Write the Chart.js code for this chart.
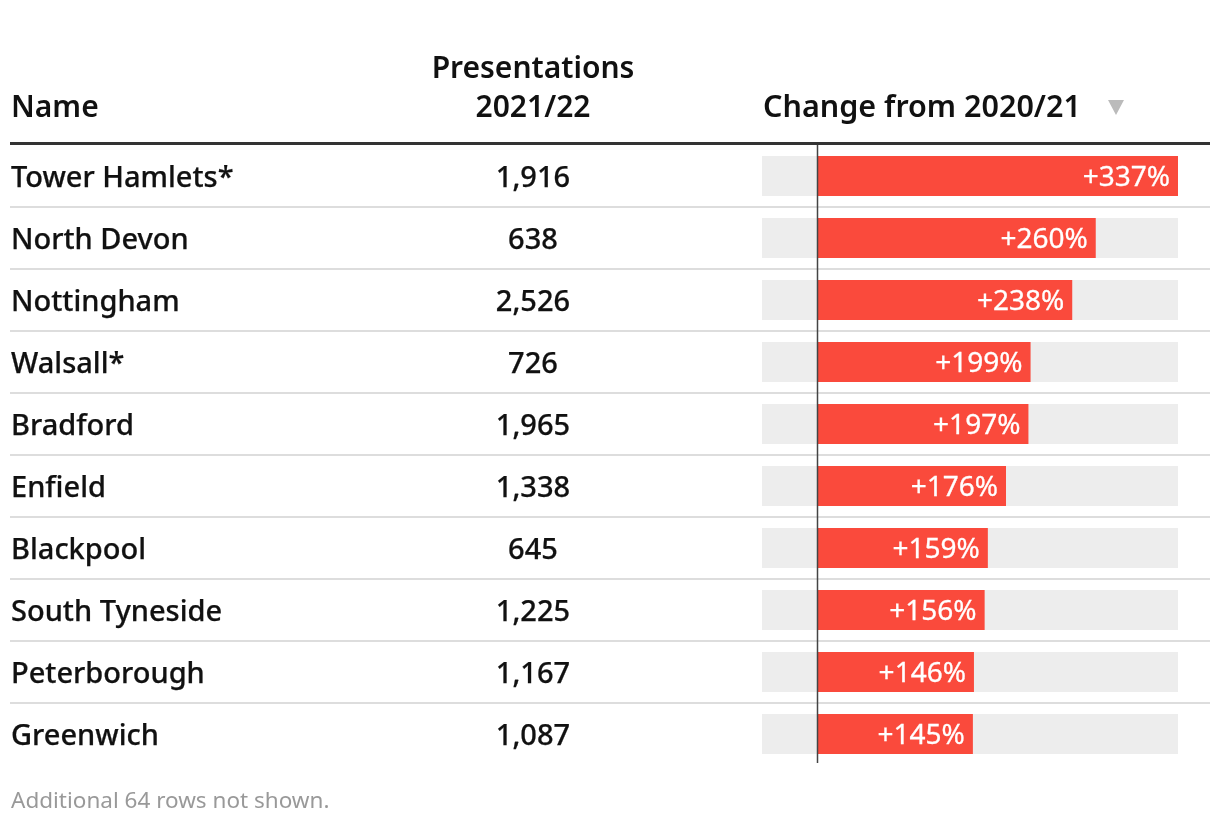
<!DOCTYPE html>
<html><head><meta charset="utf-8">
<script src="https://cdn.jsdelivr.net/npm/chart.js@4.4.0/dist/chart.umd.min.js"></script>
<style>html,body{margin:0;padding:0;background:#fff;}canvas{display:block;}</style>
</head><body>
<canvas id="c" width="1220" height="828"></canvas>
<script>
const names = ['Tower Hamlets*','North Devon','Nottingham','Walsall*','Bradford','Enfield','Blackpool','South Tyneside','Peterborough','Greenwich'];
const presentations = [1916, 638, 2526, 726, 1965, 1338, 645, 1225, 1167, 1087];
const changes = [337, 260, 238, 199, 197, 176, 159, 156, 146, 145];
const domainMin = -52.4;
const domainMax = 337;
const headerName = 'Name';
const headerPres = ['Presentations', '2021/22'];
const headerChange = 'Change from 2020/21';
const footnote = 'Additional 64 rows not shown.';

const FONT = '"Noto Sans", sans-serif';
const fmt = n => n.toLocaleString('en-US');
const fmtPct = n => (n > 0 ? '+' : '') + n + '%';

function mediumText(ctx, s, x, y) {
  ctx.fillText(s, x, y);
  ctx.strokeText(s, x, y);
}

const tablePlugin = {
  id: 'table',
  afterDatasetsDraw(chart) {
    const ctx = chart.ctx;
    const x = chart.scales.x, y = chart.scales.y;
    const area = chart.chartArea;
    ctx.save();
    // row separators
    ctx.strokeStyle = '#dddddd'; ctx.lineWidth = 2;
    for (let i = 0; i < names.length - 1; i++) {
      const yy = Math.round((y.getPixelForValue(i) + y.getPixelForValue(i + 1)) / 2);
      ctx.beginPath(); ctx.moveTo(10, yy); ctx.lineTo(1210, yy); ctx.stroke();
    }
    // header rule
    ctx.strokeStyle = '#333333'; ctx.lineWidth = 3;
    ctx.beginPath(); ctx.moveTo(10, 143.5); ctx.lineTo(1210, 143.5); ctx.stroke();
    // zero line
    const x0 = Math.round(x.getPixelForValue(0)) - 0.5;
    ctx.strokeStyle = '#444444'; ctx.lineWidth = 1.5;
    ctx.beginPath(); ctx.moveTo(x0, area.top); ctx.lineTo(x0, area.bottom - 2); ctx.stroke();
    // headers
    ctx.fillStyle = '#111111';
    ctx.textBaseline = 'alphabetic';
    ctx.font = '600 30px ' + FONT;
    ctx.textAlign = 'left';
    ctx.fillText(headerName, 11, 117);
    ctx.textAlign = 'center';
    ctx.fillText(headerPres[0], 533, 78);
    ctx.fillText(headerPres[1], 533, 117);
    ctx.textAlign = 'left';
    ctx.font = '600 30.5px ' + FONT;
    ctx.fillText(headerChange, 763, 117);
    // sort triangle
    ctx.fillStyle = '#bbbbbb';
    ctx.beginPath(); ctx.moveTo(1108, 100); ctx.lineTo(1124, 100); ctx.lineTo(1116, 115); ctx.closePath(); ctx.fill();
    // rows
    ctx.fillStyle = '#111111';
    ctx.strokeStyle = '#111111';
    ctx.lineWidth = 0.25;
    ctx.font = '500 29px ' + FONT;
    ctx.textBaseline = 'alphabetic';
    for (let i = 0; i < names.length; i++) {
      const yy = y.getPixelForValue(i) + 11;
      ctx.textAlign = 'left';
      mediumText(ctx, names[i], 11, yy);
      ctx.textAlign = 'center';
      mediumText(ctx, fmt(presentations[i]), 533, yy);
    }
    // bar labels
    const meta = chart.getDatasetMeta(1);
    ctx.fillStyle = '#ffffff';
    ctx.strokeStyle = '#ffffff';
    ctx.lineWidth = 0.3;
    ctx.font = '400 28px ' + FONT;
    ctx.textAlign = 'right';
    meta.data.forEach((bar, i) => {
      mediumText(ctx, fmtPct(changes[i]), bar.x - 8, bar.y + 10);
    });
    // footnote
    ctx.fillStyle = '#999999';
    ctx.font = '400 22.5px ' + FONT;
    ctx.textAlign = 'left';
    ctx.fillText(footnote, 11, 808);
    ctx.restore();
  }
};

new Chart(document.getElementById('c'), {
  type: 'bar',
  data: {
    labels: names,
    datasets: [
      {
        label: 'range',
        data: names.map(() => [domainMin, domainMax]),
        backgroundColor: '#ededed',
        order: 2,
        grouped: false,
        barPercentage: 40 / 62,
        categoryPercentage: 1
      },
      {
        label: 'Change from 2020/21',
        data: changes,
        backgroundColor: '#fa4a3c',
        order: 1,
        grouped: false,
        barPercentage: 40 / 62,
        categoryPercentage: 1
      }
    ]
  },
  options: {
    indexAxis: 'y',
    responsive: false,
    animation: false,
    devicePixelRatio: 1,
    layout: { padding: { left: 762, right: 42, top: 145, bottom: 63 } },
    plugins: { legend: { display: false }, tooltip: { enabled: false } },
    scales: {
      x: { display: false, min: domainMin, max: domainMax },
      y: { display: false }
    }
  },
  plugins: [tablePlugin]
});
</script>
</body></html>
